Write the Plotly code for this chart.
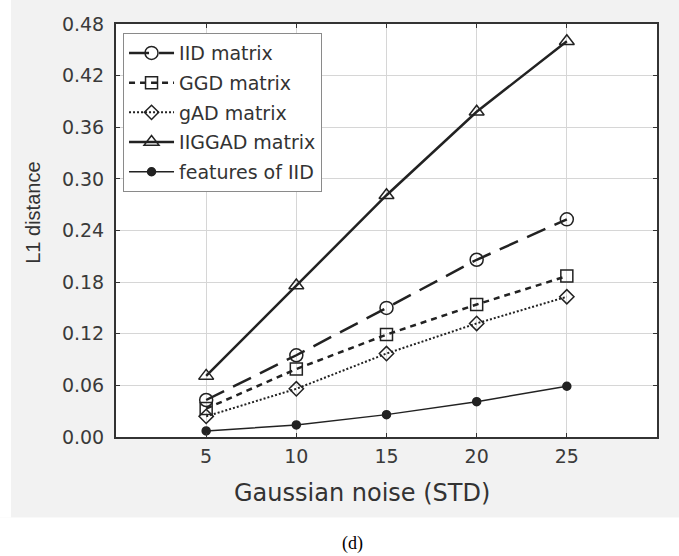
import plotly.graph_objects as go

# ---- data ----
noise_std = [5, 10, 15, 20, 25]
iid_matrix = [0.043, 0.095, 0.150, 0.206, 0.253]
ggd_matrix = [0.033, 0.079, 0.119, 0.154, 0.187]
gad_matrix = [0.024, 0.056, 0.097, 0.132, 0.163]
iiggad_matrix = [0.071, 0.176, 0.281, 0.378, 0.460]
features_iid = [0.007, 0.014, 0.026, 0.041, 0.059]

series_names = ["IID matrix", "GGD matrix", "gAD matrix", "IIGGAD matrix", "features of IID"]
y_ticks = [0.00, 0.06, 0.12, 0.18, 0.24, 0.30, 0.36, 0.42, 0.48]
x_ticks = [5, 10, 15, 20, 25]

INK = "#222222"
FONT = "DejaVu Sans"

fig = go.Figure()

styles = [
    (iid_matrix, dict(symbol="circle-open", size=13), dict(width=2.5, dash="20px,10px")),
    (ggd_matrix, dict(symbol="square-open", size=12), dict(width=2.5, dash="6px,5px")),
    (gad_matrix, dict(symbol="diamond-open", size=11), dict(width=2, dash="2px,2px")),
    (iiggad_matrix, dict(symbol="triangle-up-open", size=13), dict(width=2.5, dash="solid")),
    (features_iid, dict(symbol="circle", size=8), dict(width=1.5, dash="solid")),
]

for name, (vals, mk, ln) in zip(series_names, styles):
    mk = dict(mk)
    mk.update(color=INK, line=dict(color=INK, width=1.5))
    fig.add_trace(go.Scatter(
        x=noise_std, y=vals, name=name, mode="lines+markers",
        legendgroup=name,
        line=dict(color=INK, **ln), marker=mk,
    ))

fig.update_layout(
    width=679, height=556,
    margin=dict(l=116, r=22, t=24, b=118.5),
    paper_bgcolor="#f2f2f2",
    plot_bgcolor="white",
    font=dict(family=FONT, color="#3a3a3a", size=19),
    showlegend=True,
    legend=dict(
        x=0.013, y=0.978, xanchor="left", yanchor="top",
        bgcolor="white", bordercolor="#8a8a8a", borderwidth=1,
        font=dict(family=FONT, size=19, color="#333333"),
        traceorder="grouped", tracegroupgap=2, itemwidth=45,
    ),
    xaxis=dict(
        range=[0, 30], tickvals=x_ticks, ticktext=[str(v) for v in x_ticks],
        showgrid=True, gridcolor="#d6d6d6", gridwidth=1,
        showline=True, linecolor="#333333", linewidth=2, mirror="allticks",
        ticks="inside", ticklen=4, tickcolor="#333333",
        ticklabelstandoff=1, zeroline=False,
        tickfont=dict(family=FONT, size=19),
    ),
    yaxis=dict(
        range=[0, 0.48], tickvals=y_ticks, tickformat=".2f",
        showgrid=True, gridcolor="#d6d6d6", gridwidth=1,
        showline=True, linecolor="#333333", linewidth=2, mirror="allticks",
        ticks="inside", ticklen=4, tickcolor="#333333",
        ticklabelstandoff=6, zeroline=False,
        tickfont=dict(family=FONT, size=19),
    ),
    shapes=[
        dict(type="rect", xref="paper", yref="paper", x0=-0.3, x1=1.1, y0=-0.1947, y1=-0.35,
             fillcolor="white", line=dict(width=0), layer="below"),
        dict(type="rect", xref="paper", yref="paper", x0=-0.3, x1=-0.194, y0=-0.1947, y1=1.1,
             fillcolor="white", line=dict(width=0), layer="below"),
    ],
    annotations=[
        dict(text="L1 distance", xref="paper", yref="paper", x=-0.1534, y=0.543,
             textangle=-90, showarrow=False, xanchor="center", yanchor="middle",
             font=dict(family="Liberation Sans", size=20, color="#333333")),
        dict(text="Gaussian noise (STD)", xref="paper", yref="paper", x=0.4547, y=-0.1366,
             showarrow=False, xanchor="center", yanchor="middle",
             font=dict(family=FONT, size=24, color="#333333")),
        dict(text="(d)", xref="paper", yref="paper", x=0.438, y=-0.2576,
             showarrow=False, xanchor="center", yanchor="middle",
             font=dict(family="Liberation Serif", size=18, color="black")),
    ],
)

fig.write_html("out.html", config={"displayModeBar": False},
               post_script="document.body.style.margin='0px';")
